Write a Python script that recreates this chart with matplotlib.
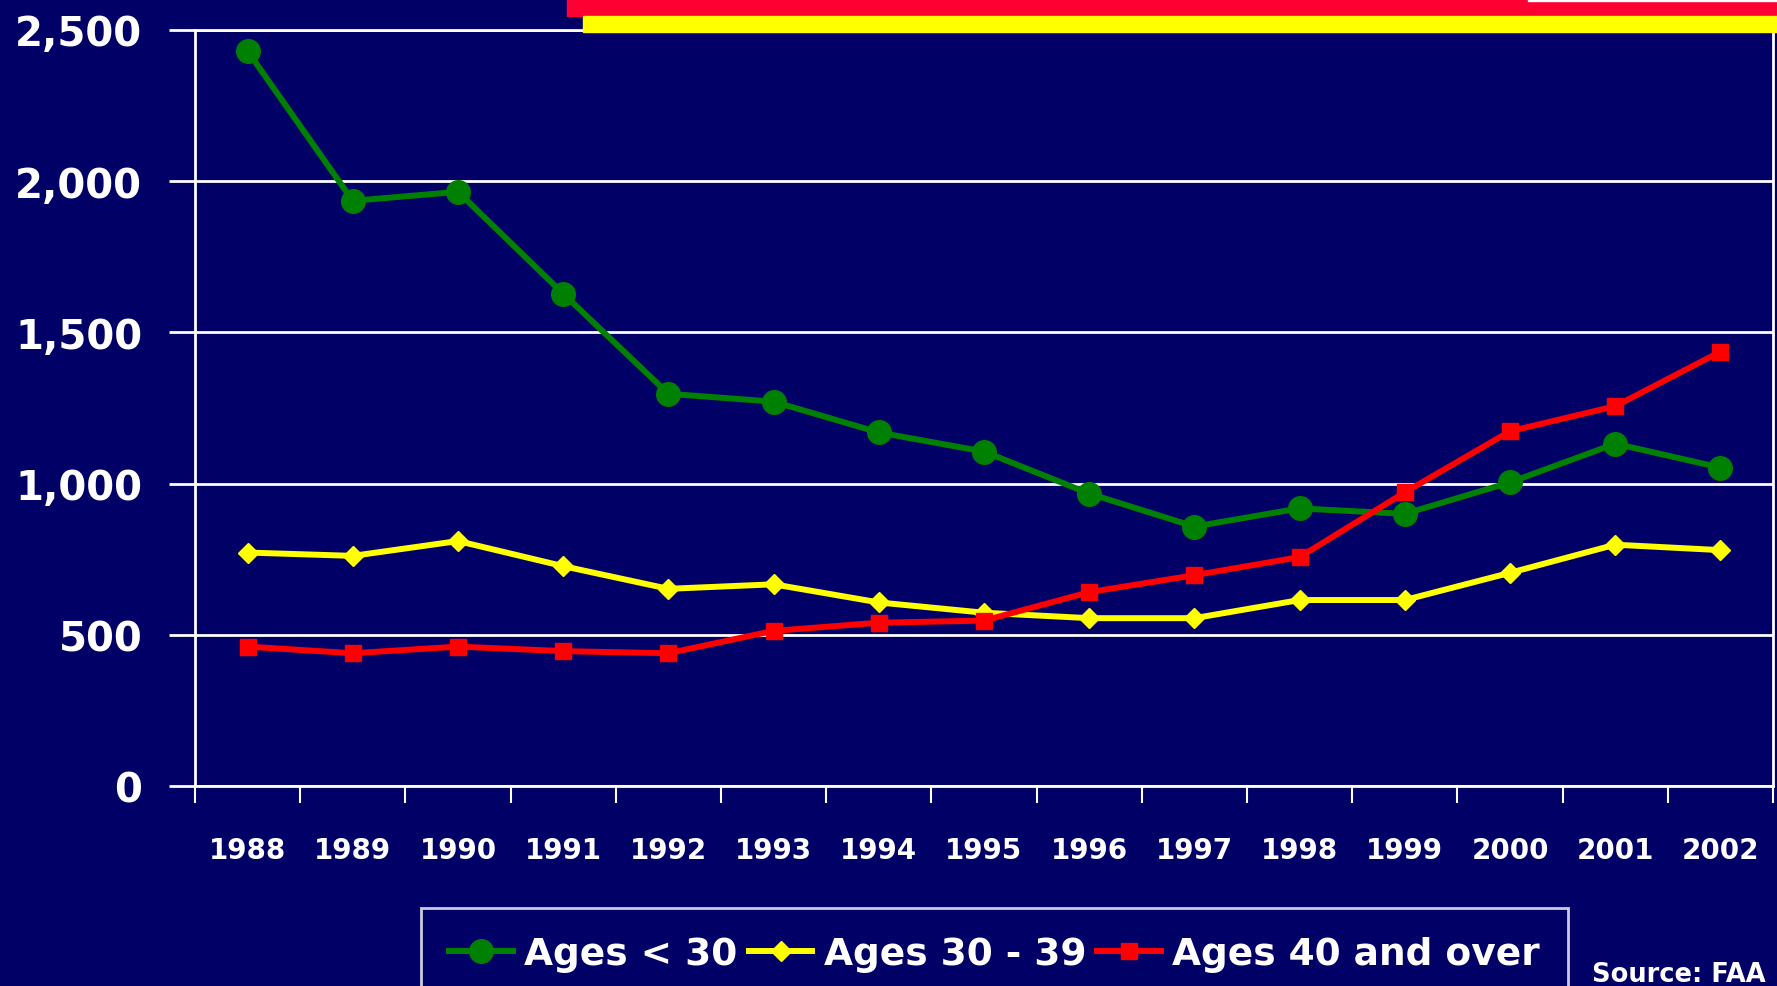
import matplotlib
matplotlib.use("Agg")
import matplotlib.pyplot as plt
from matplotlib.patches import Rectangle

years = ["1988", "1989", "1990", "1991", "1992", "1993", "1994", "1995",
         "1996", "1997", "1998", "1999", "2000", "2001", "2002"]
ages_under_30 = [2430, 1935, 1965, 1628, 1297, 1271, 1169, 1106,
                 967, 858, 918, 900, 1004, 1132, 1053]
ages_30_39 = [772, 761, 810, 727, 652, 667, 607, 573,
              555, 555, 615, 615, 705, 798, 780]
ages_40_over = [461, 439, 461, 446, 439, 513, 540, 547,
                641, 697, 757, 971, 1173, 1256, 1436]
series_labels = ["Ages < 30", "Ages 30 - 39", "Ages 40 and over"]
y_ticks = [0, 500, 1000, 1500, 2000, 2500]

BG = "#000066"
W, H = 1777, 987
fig = plt.figure(figsize=(W / 100, H / 100), dpi=100, facecolor=BG)
plt.rcParams['font.family'] = ['DejaVu Sans']

# decorative top bars
fig.patches.append(Rectangle((567 / W, 1 - 17 / H), 1 - 567 / W, 17 / H,
                             transform=fig.transFigure, color="#FF0033", zorder=0))
fig.patches.append(Rectangle((583 / W, 1 - 33 / H), 1 - 583 / W, 16 / H,
                             transform=fig.transFigure, color="#FFFF00", zorder=0))
fig.patches.append(Rectangle((1528 / W, 1 - 2 / H), 1 - 1528 / W, 2 / H,
                             transform=fig.transFigure, color="white", zorder=1))

ax = fig.add_axes([195 / W, 1 - 787 / H, (1773 - 195) / W, (787 - 31) / H])
ax.set_facecolor("none")
ax.patch.set_alpha(0)

x = list(range(len(years)))
ax.plot(x, ages_under_30, color="#008000", lw=4.3, marker="o", ms=17,
        label=series_labels[0], zorder=3)
ax.plot(x, ages_30_39, color="#FFFF00", lw=4.3, marker="D", ms=10,
        label=series_labels[1], zorder=3)
ax.plot(x, ages_40_over, color="#FF0000", lw=4.3, marker="s", ms=11,
        label=series_labels[2], zorder=3)

ax.set_xlim(-0.5, len(years) - 0.5)
ax.set_ylim(0, 2500)
ax.set_yticks(y_ticks)
ax.set_yticklabels([f"{v:,}" for v in y_ticks], fontsize=29, fontweight="bold",
                   color="white")
ax.yaxis.grid(True, color="white", lw=2)
ax.set_axisbelow(True)

ax.set_xticks([i - 0.5 for i in range(len(years) + 1)])
ax.set_xticklabels([])
ax.set_xticks(x, minor=True)
ax.set_xticklabels(years, minor=True, fontsize=20, fontweight="bold", color="white")
ax.tick_params(axis="x", which="major", length=12, width=1.5, color="white", direction="out")
ax.tick_params(axis="x", which="minor", length=0, pad=36)
ax.tick_params(axis="y", length=19, width=2, color="white", pad=19)

for s in ax.spines.values():
    s.set_color("white")
    s.set_linewidth(2)

leg = fig.legend(loc="upper left", bbox_to_anchor=(421 / W, 1 - 909 / H), ncol=3,
                 frameon=True, handlelength=1.7, handletextpad=0.3,
                 columnspacing=0.3, borderpad=0.75, borderaxespad=0, fancybox=False,
                 prop={"weight": "bold", "size": 27})
leg.get_frame().set_facecolor(BG)
leg.get_frame().set_edgecolor("white")
leg.get_frame().set_linewidth(2)
for t in leg.get_texts():
    t.set_color("white")

fig.text(1592 / W, 1 - 975 / H, "Source: FAA", fontsize=18.5, fontweight="bold",
         color="white", va="center", ha="left")

fig.savefig("out.png", dpi=100, facecolor=BG)
